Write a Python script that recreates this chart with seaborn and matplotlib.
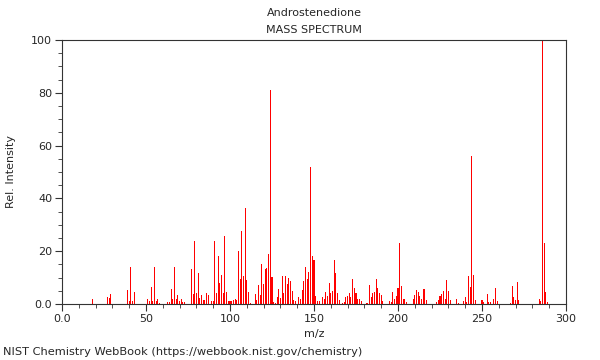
import pandas as pd
import numpy as np
import seaborn as sns
import matplotlib.pyplot as plt
from matplotlib.ticker import MultipleLocator, FixedFormatter, FixedLocator

# peaks (m/z, relative intensity)
mz = [18, 27, 28, 29,
      39, 40, 41, 42, 43,
      51, 52, 53, 54, 55, 56, 57, 58,
      63, 64, 65, 66, 67, 68, 69, 70, 71, 72, 73,
      77, 78, 79, 80, 81, 82, 83, 84, 85, 86, 87, 89, 90,
      91, 92, 93, 94, 95, 96, 97, 98, 99, 100,
      101, 102, 103, 104, 105, 106, 107, 108, 109, 110, 111, 112,
      115, 116, 117, 118, 119, 120, 121, 122, 123, 124, 125, 126, 127,
      128, 129, 130, 131, 132, 133, 134, 135, 136, 137, 138, 139,
      141, 142, 143, 144, 145, 146, 147, 148, 149, 150, 151, 152, 153,
      155, 156, 157, 158, 159, 160, 161, 162, 163, 164, 165, 167, 168,
      169, 170, 171, 172, 173, 174, 175, 176, 177, 178, 181, 182,
      183, 184, 185, 186, 187, 188, 189, 190, 191, 195, 196,
      197, 198, 199, 200, 201, 202, 203, 204, 205,
      209, 210, 211, 212, 213, 214, 215, 216, 217,
      223, 224, 225, 226, 227, 228, 229, 230, 231, 235, 236,
      239, 240, 241, 242, 243, 244, 245, 246,
      250, 251, 253, 254, 255, 257, 258, 259,
      267, 268, 269, 270, 271, 272,
      284, 285, 286, 287, 288, 289]
intensity = [1.8, 2.8, 2.3, 3.8,
             5.2, 1.0, 14.1, 1.3, 4.7,
             1.8, 1.0, 6.6, 1.3, 13.9, 1.0, 1.8, 0.5,
             0.8, 0.8, 5.6, 1.8, 14.1, 1.8, 3.4, 1.0, 1.8, 0.8, 0.8,
             13.1, 3.7, 23.9, 4.0, 11.6, 2.1, 3.3, 1.5, 1.5, 4.0, 3.3, 1.0, 1.0,
             23.9, 4.0, 18.2, 8.0, 11.0, 4.0, 25.8, 4.5, 1.0, 1.0,
             1.0, 1.5, 2.0, 1.5, 20.0, 9.6, 27.6, 10.6, 36.4, 9.1, 4.7, 0.5,
             3.8, 1.5, 7.3, 3.4, 15.3, 7.6, 13.4, 13.6, 18.9, 81.0, 10.2, 0.8, 0.5,
             2.6, 5.7, 2.3, 10.6, 4.1, 10.6, 7.6, 9.8, 8.8, 5.0, 1.5, 1.0,
             2.5, 1.9, 5.3, 8.7, 14.1, 9.5, 12.1, 52.0, 18.2, 16.7, 3.2, 1.0, 1.0,
             2.8, 1.9, 4.7, 3.0, 7.8, 4.3, 5.0, 16.7, 11.6, 4.3, 1.5, 0.5, 0.8,
             2.5, 3.2, 4.2, 2.8, 9.3, 5.9, 4.0, 1.9, 1.9, 1.0, 0.5, 0.5,
             7.3, 2.8, 4.1, 4.7, 9.3, 6.0, 4.2, 3.3, 1.0, 1.0, 0.8,
             4.5, 2.0, 3.0, 6.0, 23.0, 6.7, 2.0, 2.0, 0.8,
             1.8, 3.3, 5.3, 4.6, 3.2, 1.9, 5.5, 5.8, 1.5,
             0.8, 1.7, 3.2, 3.8, 5.0, 2.0, 9.2, 5.0, 1.7, 2.0, 0.5,
             1.0, 2.5, 0.8, 10.6, 6.4, 56.0, 10.9, 1.7,
             1.5, 0.8, 3.8, 0.8, 0.8, 2.0, 6.0, 1.3,
             0.5, 6.8, 2.5, 1.5, 8.3, 1.7,
             2.0, 1.3, 100.0, 23.2, 4.6, 0.8]

df = pd.DataFrame({"mz": mz, "intensity": intensity})

sns.set_style("ticks")
plt.rcParams['font.family'] = ['DejaVu Sans']

fig = plt.figure(figsize=(6, 3.6), dpi=100)
ax = fig.add_axes([62/600, 1-304/360, 504/600, 264/360])

sns.barplot(data=df, x="mz", y="intensity", native_scale=True, width=0.6,
            color="red", saturation=1, linewidth=0, errorbar=None, ax=ax)

ax.set_xlim(0, 300)
ax.set_ylim(0, 100)

ax.xaxis.set_major_locator(FixedLocator([0, 50, 100, 150, 200, 250, 300]))
ax.xaxis.set_major_formatter(FixedFormatter(["0.0", "50", "100", "150", "200", "250", "300"]))
ax.xaxis.set_minor_locator(MultipleLocator(10))
ax.yaxis.set_major_locator(FixedLocator([0, 20, 40, 60, 80, 100]))
ax.yaxis.set_major_formatter(FixedFormatter(["0.0", "20", "40", "60", "80", "100"]))
ax.yaxis.set_minor_locator(MultipleLocator(5))

ax.tick_params(which='major', length=5, width=0.8, labelsize=8, color='#333333', pad=2)
ax.tick_params(which='minor', length=3, width=0.6, color='#333333')
for s in ax.spines.values():
    s.set_linewidth(0.8)
    s.set_color('#333333')

ax.set_xlabel("m/z", fontsize=8, labelpad=4)
ax.set_ylabel("Rel. Intensity", fontsize=8, labelpad=11)

fig.text(314/600, 1-13/360, "Androstenedione", ha="center", va="center", fontsize=8)
fig.text(314/600, 1-30/360, "MASS SPECTRUM", ha="center", va="center", fontsize=8)
fig.text(3/600, 1-352/360, "NIST Chemistry WebBook (https://webbook.nist.gov/chemistry)",
         ha="left", va="center", fontsize=8.2)

fig.savefig("out.png", dpi=100)
